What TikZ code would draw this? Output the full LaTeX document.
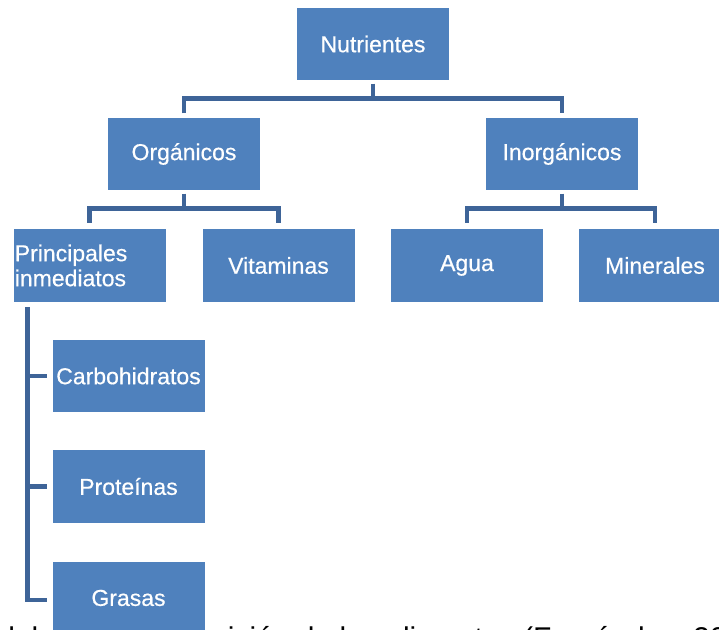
\documentclass[tikz,border=0pt]{standalone}
\usepackage{fontspec}
\setmainfont{Liberation Sans}
\newfontfamily\boxfont[BoldFont={Liberation Sans},BoldFeatures={FakeBold=0.5}]{Liberation Sans}
\usetikzlibrary{calc}
\definecolor{boxblue}{RGB}{79,129,189}
\definecolor{connblue}{RGB}{62,100,152}
\begin{document}
\begin{tikzpicture}[x=0.75pt,y=-0.75pt,
  box/.style={fill=boxblue,text=white,minimum width=114pt,minimum height=54.5pt,
    inner sep=0pt,font=\boxfont\bfseries\fontsize{17.25}{18.75}\selectfont,anchor=center},
  conn/.style={draw=connblue,line width=3.4pt},
  captxt/.style={font=\fontsize{22.5}{27}\selectfont,anchor=base west,inner sep=0pt}]
\useasboundingbox (0,0) rectangle (719,630);
\clip (0,0) rectangle (719,630);
% caption line, mostly below the picture's edge
\node[captxt] (cap1) at (-2,649) {del};
\node[captxt] (cap2) at (122.7,649) {composición de los alimentos (Fernández, 20};
% boxes
\node[box] (nut) at (373,44) {Nutrientes};
\node[box] (org) at (184,154) {Orgánicos};
\node[box] (inorg) at (562,154) {Inorgánicos};
\node[box,align=left,text width=112pt] (pri) at (89.5,265.5) {Principales\\inmediatos};
\node[box] (vit) at (278.5,265.5) {Vitaminas};
\node[box] (agua) at (467,265.5) {Agua};
\node[box] (min) at (655,265.5) {Minerales};
\node[box] (carb) at (128.5,376) {Carbohidratos};
\node[box] (prot) at (128.5,486.5) {Proteínas};
\node[box] (gras) at (128.5,598) {Grasas};
% connectors: level 1
\coordinate (nh) at ($(nut.south)+(0,18)$);
\draw[conn] ($(nut.south)+(0,3)$) -- (nh);
\draw[conn] ($(org.north)+(0,-4)$) |- (nh) -| ($(inorg.north)+(0,-4)$);
% level 2
\coordinate (oh) at ($(org.south)+(0,18)$);
\draw[conn] ($(org.south)+(0,3)$) -- (oh);
\draw[conn] ($(pri.north)+(0,-6)$) |- (oh) -| ($(vit.north)+(0,-6)$);
\coordinate (ih) at ($(inorg.south)+(0,18)$);
\draw[conn] ($(inorg.south)+(0,3)$) -- (ih);
\draw[conn] ($(agua.north)+(0,-6)$) |- (ih) -| ($(min.north)+(0,-6)$);
% spine under Principales inmediatos
\coordinate (sp) at ($(pri.south west)+(14,5)$);
\draw[conn,shorten >=4pt] (sp) |- ($(gras.west)+(0,2)$);
\draw[conn,shorten >=4pt] (sp |- carb.west) -- (carb.west);
\draw[conn,shorten >=4pt] (sp |- prot.west) -- (prot.west);
\end{tikzpicture}
\end{document}
